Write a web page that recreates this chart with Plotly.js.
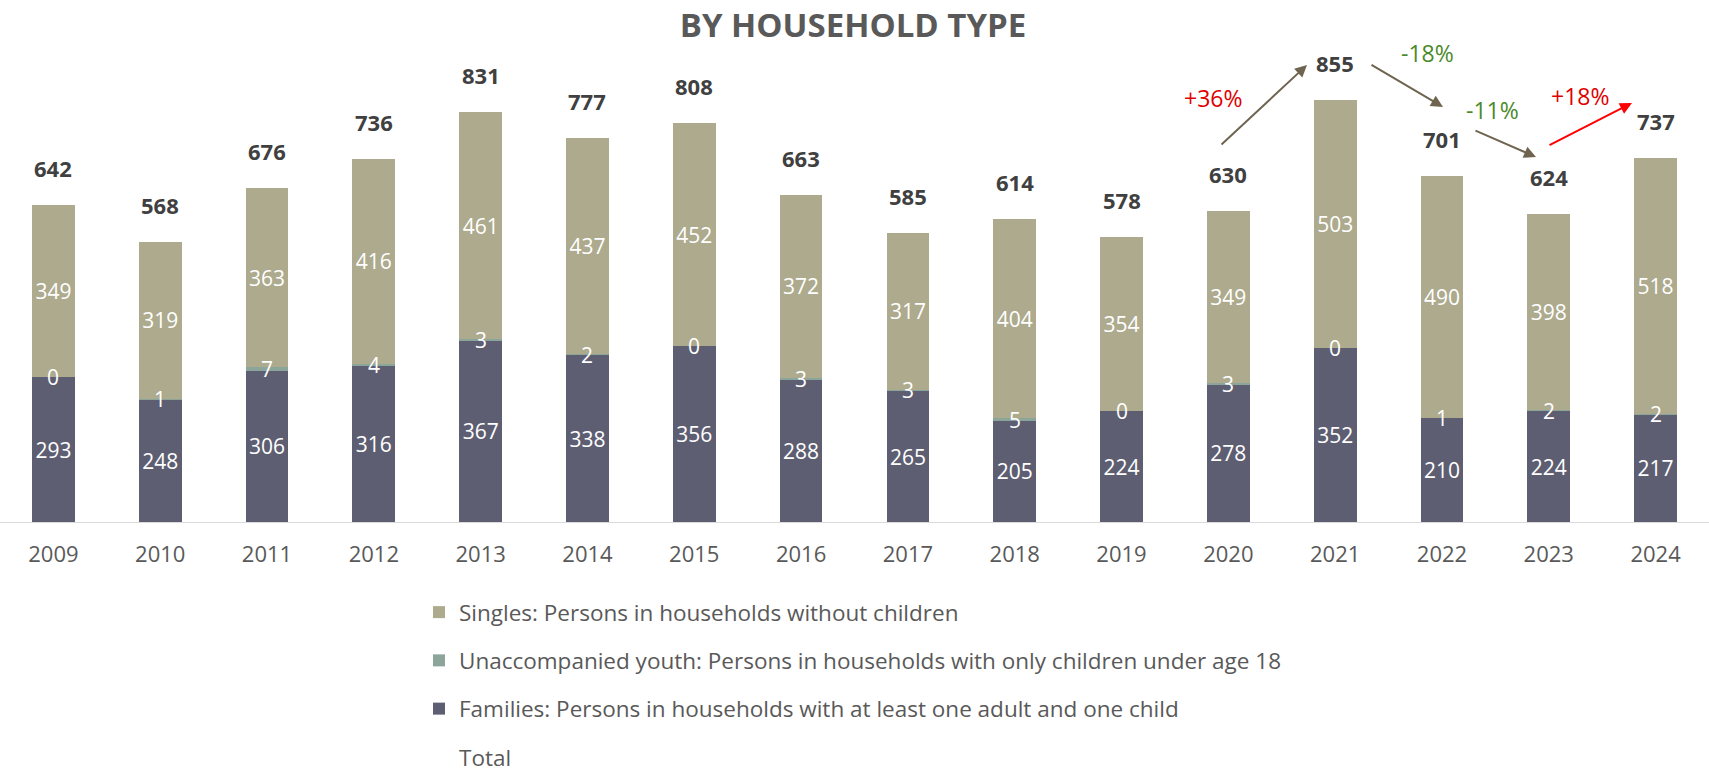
<!DOCTYPE html>
<html>
<head>
<meta charset="utf-8">
<script src="https://cdn.plot.ly/plotly-3.0.1.min.js"></script>
<style>html,body{margin:0;padding:0;background:#fff;}#chart{width:1709px;height:772px;}</style>
</head>
<body>
<div id="chart"></div>
<script>
const years = ['2009','2010','2011','2012','2013','2014','2015','2016','2017','2018','2019','2020','2021','2022','2023','2024'];
const families = [293,248,306,316,367,338,356,288,265,205,224,278,352,210,224,217];
const youth = [0,1,7,4,3,2,0,3,3,5,0,3,0,1,2,2];
const singles = [349,319,363,416,461,437,452,372,317,404,354,349,503,490,398,518];
const totals = [642,568,676,736,831,777,808,663,585,614,578,630,855,701,624,737];
const seriesNames = [
  'Singles: Persons in households without children',
  'Unaccompanied youth: Persons in households with only children under age 18',
  'Families: Persons in households with at least one adult and one child',
  'Total'
];
const changes = ['+36%','-18%','-11%','+18%'];

const FONT = '"Open Sans", sans-serif';
const W = 1709, PLOT_TOP = 50, PLOT_BOTTOM = 522, PLOT_H = PLOT_BOTTOM - PLOT_TOP;
const px = x => x / W;
const py = y => (PLOT_BOTTOM - y) / PLOT_H;

function barTrace(vals, name, color, rank, showText) {
  return {
    type: 'bar', x: years, y: vals, name: name,
    marker: {color: color},
    text: vals.map(String), textposition: showText ? 'inside' : 'none', insidetextanchor: 'middle',
    textangle: 0, constraintext: 'none',
    textfont: {family: FONT, size: 21, color: '#ffffff'},
    legendgroup: name, legendrank: rank, hoverinfo: 'skip'
  };
}

const traces = [
  barTrace(families, seriesNames[2], '#5e5e72', 3, true),
  barTrace(youth, seriesNames[1], '#8ca59b', 2, false),
  barTrace(singles, seriesNames[0], '#adaa8d', 1, true),
  {type: 'scatter', mode: 'markers', x: years, y: totals, name: seriesNames[3],
   marker: {opacity: 0, size: 1, color: '#ffffff'}, legendgroup: 'total', legendrank: 4, hoverinfo: 'skip'}
];

const annotations = years.map((yr, i) => ({
  x: i, y: totals[i], xref: 'x', yref: 'y', text: String(totals[i]),
  showarrow: false, yshift: 37, yanchor: 'middle',
  font: {family: FONT, size: 22, color: '#404040', weight: 'bold'}
}));
// youth segment labels (drawn at the middle of each thin youth segment)
years.forEach((yr, i) => annotations.push({
  x: i, y: families[i] + youth[i] / 2, xref: 'x', yref: 'y', text: String(youth[i]),
  showarrow: false, yanchor: 'middle',
  font: {family: FONT, size: 21, color: '#ffffff'}
}));

const arrowDefs = [
  {hx: 1307, hy: 65, tx: 1220, ty: 146, color: '#6f6450'},
  {hx: 1443, hy: 107, tx: 1370, ty: 64, color: '#6f6450'},
  {hx: 1536, hy: 157, tx: 1474, ty: 130, color: '#6f6450'},
  {hx: 1632, hy: 103, tx: 1548, ty: 146, color: '#ff0000'}
];
arrowDefs.forEach(a => annotations.push({
  xref: 'paper', yref: 'paper', x: px(a.hx), y: py(a.hy), ax: a.tx - a.hx, ay: a.ty - a.hy,
  axref: 'pixel', ayref: 'pixel', text: '', showarrow: true,
  arrowhead: 2, arrowsize: 1.2, arrowwidth: 2, arrowcolor: a.color
}));
const labelPos = [
  {x: 1213, y: 98, c: '#e00000'},
  {x: 1427, y: 53, c: '#4b8a2b'},
  {x: 1492, y: 110, c: '#4b8a2b'},
  {x: 1580, y: 96, c: '#e00000'}
];
labelPos.forEach((p, i) => annotations.push({
  xref: 'paper', yref: 'paper', x: px(p.x), y: py(p.y), text: changes[i],
  showarrow: false, xanchor: 'center', yanchor: 'middle',
  font: {family: FONT, size: 23, color: p.c}
}));

const layout = {
  width: 1709, height: 772,
  margin: {l: 0, r: 0, t: PLOT_TOP, b: 772 - PLOT_BOTTOM, pad: 0, autoexpand: false},
  paper_bgcolor: '#ffffff', plot_bgcolor: '#ffffff',
  title: {text: 'BY HOUSEHOLD TYPE', x: 853 / W, xanchor: 'center', y: 1 - 25 / 772, yanchor: 'middle', yref: 'container',
          font: {family: FONT, size: 33, color: '#595959', weight: 'bold'}},
  barmode: 'stack', bargap: 0.6,
  uniformtext: {mode: 'show', minsize: 21},
  showlegend: true,
  legend: {orientation: 'v', x: 419 / W, xanchor: 'left', y: py(591), yanchor: 'top',
           traceorder: 'grouped', tracegroupgap: 16,
           font: {family: FONT, size: 22.5, color: '#595959'}, bgcolor: 'rgba(0,0,0,0)'},
  xaxis: {type: 'category', range: [-0.5, 15.5], autorange: false, showgrid: false, zeroline: false,
          showline: true, linecolor: '#d9d9d9', linewidth: 1,
          ticks: 'outside', ticklen: 13, tickcolor: 'rgba(0,0,0,0)',
          tickfont: {family: FONT, size: 22, color: '#595959'}, fixedrange: true},
  yaxis: {range: [0, 956], autorange: false, visible: false, showgrid: false, zeroline: false, fixedrange: true},
  annotations: annotations,
  hovermode: false
};

Plotly.newPlot('chart', traces, layout, {displayModeBar: false, staticPlot: true});
</script>
</body>
</html>
